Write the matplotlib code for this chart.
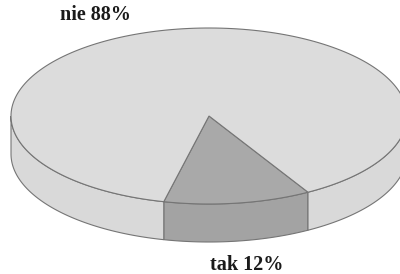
import numpy as np
import matplotlib
matplotlib.use('Agg')
import matplotlib.pyplot as plt
from matplotlib.patches import Polygon

labels = ['tak', 'nie']
values = [12, 88]
top_colors = ['#a9a9a9', '#dcdcdc']
side_colors = ['#a3a3a3', '#d9d9d9']

# pie geometry (pixels, y pointing down)
cx, cy = 209, 116
a, b = 198, 88
depth = 38
start = 60  # degrees, measured clockwise on screen
edge = '#757575'

fig = plt.figure(figsize=(4, 2.74), dpi=100)
ax = fig.add_axes([0, 0, 1, 1])
ax.set_xlim(0, 400)
ax.set_ylim(274, 0)
ax.axis('off')


def arc(t0, t1, n=80):
    t = np.radians(np.linspace(t0, t1, n))
    return cx + a * np.cos(t), cy + b * np.sin(t)


fracs = np.array(values) / sum(values)
angles = start + 360 * np.concatenate([[0], np.cumsum(fracs)])

# sides: only the front half (0..180 deg) is visible
for i in range(len(values)):
    t0, t1 = angles[i], angles[i + 1]
    for k in (0, 360):
        s0, s1 = max(t0, k), min(t1, k + 180)
        if s1 <= s0:
            continue
        x, y = arc(s0, s1)
        pts = np.vstack([np.column_stack([x, y]),
                         np.column_stack([x[::-1], y[::-1] + depth])])
        ax.add_patch(Polygon(pts, closed=True, fc=side_colors[i],
                             ec=edge, lw=0.8))

# tops
for i in range(len(values)):
    x, y = arc(angles[i], angles[i + 1], 200)
    pts = np.vstack([[cx, cy], np.column_stack([x, y])])
    ax.add_patch(Polygon(pts, closed=True, fc=top_colors[i],
                         ec=edge, lw=0.8))

font = dict(family='Liberation Serif', weight='bold', fontsize=14.5,
            color='#1a1a1a')
ax.text(95.5, 15, f'{labels[1]} {values[1]}%', ha='center', va='center', **font)
ax.text(247, 264.5, f'{labels[0]} {values[0]}%', ha='center', va='center', **font)

fig.savefig('out.png', dpi=100)
